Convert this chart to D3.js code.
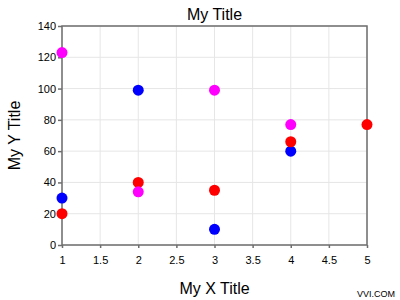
<!DOCTYPE html>
<html>
<head>
<meta charset="utf-8">
<script src="https://cdn.jsdelivr.net/npm/d3@7"></script>
<style>
  body { margin: 0; background: #fff; }
  text { font-family: "Liberation Sans", Arial, sans-serif; }
</style>
</head>
<body>
<svg id="chart" width="400" height="300"></svg>
<script>
// series data
var blue_x = [1, 2, 3, 4]
var blue_y = [30, 99, 10, 60]
var red_x = [1, 2, 3, 4, 5]
var red_y = [20, 40, 35, 66, 77]
var magenta_x = [1, 2, 3, 4]
var magenta_y = [123, 34, 99, 77]
var x_ticks = [1, 1.5, 2, 2.5, 3, 3.5, 4, 4.5, 5]
var y_ticks = [0, 20, 40, 60, 80, 100, 120, 140]

var series = [
    {color: "#0000ff", xs: blue_x, ys: blue_y},
    {color: "#ff0000", xs: red_x, ys: red_y},
    {color: "#ff00ff", xs: magenta_x, ys: magenta_y}
]

const svg = d3.select("#chart")
const plotLeft = 62, plotRight = 367, plotTop = 26, plotBottom = 245

var x = d3.scaleLinear().domain([1, 5]).range([plotLeft, plotRight])
var y = d3.scaleLinear().domain([0, 140]).range([plotBottom, plotTop])

// grid
svg.append("g").selectAll("line").data(x_ticks).join("line")
    .attr("x1", d => x(d)).attr("x2", d => x(d))
    .attr("y1", plotTop).attr("y2", plotBottom)
    .attr("stroke", "#e6e6e6")
svg.append("g").selectAll("line").data(y_ticks).join("line")
    .attr("x1", plotLeft).attr("x2", plotRight)
    .attr("y1", d => y(d)).attr("y2", d => y(d))
    .attr("stroke", "#e6e6e6")

// frame
svg.append("rect")
    .attr("x", plotLeft).attr("y", plotTop)
    .attr("width", plotRight - plotLeft).attr("height", plotBottom - plotTop)
    .attr("fill", "none").attr("stroke", "#6e6e6e").attr("stroke-width", 1.5)

var xAxis = svg.append("g")
    .attr("transform", `translate(0,${plotBottom})`)
    .call(d3.axisBottom(x).tickValues(x_ticks).tickSize(3).tickPadding(8).tickFormat(d3.format("")))
var yAxis = svg.append("g")
    .attr("transform", `translate(${plotLeft},0)`)
    .call(d3.axisLeft(y).tickValues(y_ticks).tickSize(4).tickPadding(2))
for (var ax of [xAxis, yAxis]) {
    ax.select(".domain").remove()
    ax.selectAll("line").attr("stroke", "#6e6e6e").attr("stroke-width", 1.5)
    ax.selectAll("text").attr("font-size", 11).attr("fill", "#000")
        .attr("font-family", "'Liberation Sans', Arial, sans-serif")
}

// points
series.forEach(s => {
    svg.append("g").selectAll("circle")
        .data(s.xs.map((v, i) => ({x: v, y: s.ys[i]})))
        .join("circle")
        .attr("cx", d => x(d.x))
        .attr("cy", d => y(d.y))
        .attr("r", 5.5)
        .attr("fill", s.color)
})

// titles
svg.append("text").attr("x", (plotLeft + plotRight) / 2).attr("y", 20)
    .attr("text-anchor", "middle").attr("font-size", 16).text("My Title")
svg.append("text").attr("x", (plotLeft + plotRight) / 2).attr("y", 294)
    .attr("text-anchor", "middle").attr("font-size", 16).text("My X Title")
svg.append("text")
    .attr("transform", `translate(20,${(plotTop + plotBottom) / 2}) rotate(-90)`)
    .attr("text-anchor", "middle").attr("font-size", 16).text("My Y Title")
svg.append("text").attr("x", 395).attr("y", 297)
    .attr("text-anchor", "end").attr("font-size", 9).text("VVI.COM")
</script>
</body>
</html>
